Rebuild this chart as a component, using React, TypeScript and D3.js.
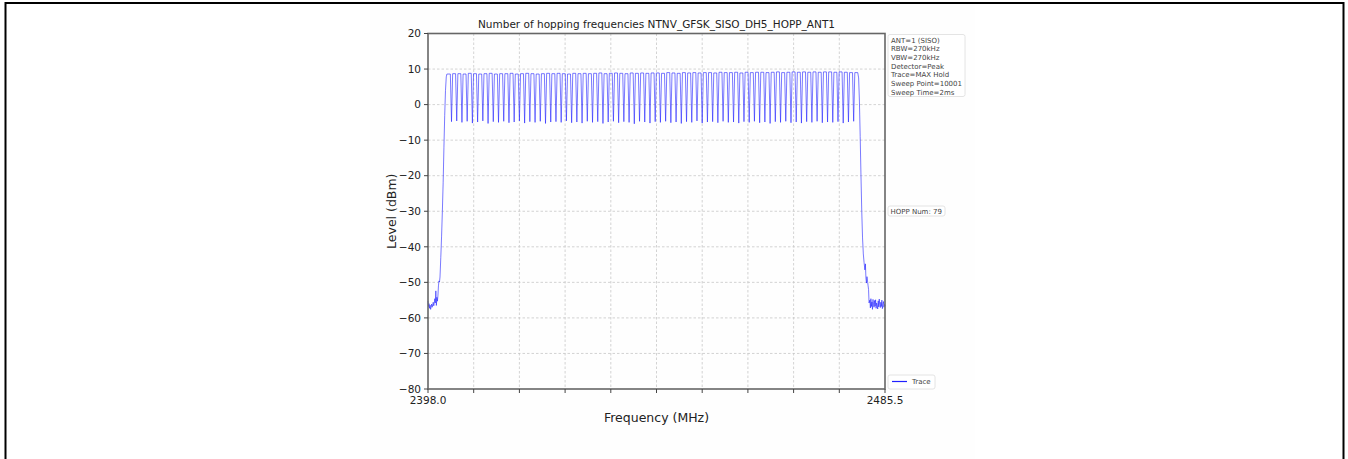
import { useEffect, useRef } from 'react'
import * as d3 from 'd3'

const TITLE = 'Number of hopping frequencies NTNV_GFSK_SISO_DH5_HOPP_ANT1'
const X_LABEL = 'Frequency (MHz)'
const Y_LABEL = 'Level (dBm)'
const X_DOMAIN = [2398.0, 2485.5]
const Y_TICKS = [20, 10, 0, -10, -20, -30, -40, -50, -60, -70, -80]
const X_TICK_LABELS = ['2398.0', '2485.5']
const X_DIVISIONS = 10
const SETTINGS_LINES = [
    'ANT=1 (SISO)',
    'RBW=270kHz',
    'VBW=270kHz',
    'Detector=Peak',
    'Trace=MAX Hold',
    'Sweep Point=10001',
    'Sweep Time=2ms',
]
const HOPP_LABEL = 'HOPP Num: 79'
const LEGEND_LABEL = 'Trace'

// hopping channels, 1 MHz apart starting here
const FIRST_CHANNEL = 2402

// plateau level of each of the 79 channels (dBm)
const PEAK_LEVELS = [
    8.6, 8.7, 8.7, 8.6, 8.8, 8.7, 8.6, 8.7, 8.8, 8.6,
    8.7, 8.7, 8.8, 8.6, 8.7, 8.8, 8.7, 8.6, 8.7, 8.8,
    8.7, 8.8, 8.7, 8.6, 8.8, 8.7, 8.8, 8.7, 8.8, 8.9,
    8.7, 8.8, 8.9, 8.8, 8.7, 8.9, 8.8, 8.9, 8.8, 8.9,
    8.9, 8.8, 9.0, 8.9, 8.8, 9.0, 8.9, 9.0, 8.9, 9.0,
    9.0, 8.9, 9.1, 9.0, 9.0, 9.1, 8.9, 9.1, 9.0, 9.1,
    9.1, 9.0, 9.1, 9.2, 9.0, 9.1, 9.2, 9.1, 9.2, 9.1,
    9.2, 9.1, 9.2, 9.2, 9.1, 9.2, 9.1, 9.0, 9.0,
]

// valley level between neighbouring channels (dBm)
const DIP_LEVELS = [
    -4.8, -4.6, -5.0, -4.7, -5.2, -4.9, -4.6, -5.3, -4.8, -5.0,
    -4.7, -5.1, -4.9, -4.6, -5.2, -4.8, -5.0, -4.7, -5.3, -4.9,
    -4.8, -5.0, -4.6, -5.1, -4.9, -5.2, -4.7, -5.0, -4.8, -5.3,
    -4.9, -4.7, -5.1, -4.8, -5.0, -5.4, -4.7, -4.9, -5.2, -4.8,
    -5.0, -4.7, -5.1, -4.9, -5.3, -4.8, -5.0, -4.6, -5.2, -4.9,
    -4.8, -5.1, -4.7, -5.0, -4.9, -5.2, -4.8, -5.0, -4.7, -5.1,
    -4.9, -5.3, -4.8, -5.0, -4.7, -5.1, -4.9, -5.2, -4.8, -5.0,
    -4.7, -5.1, -4.9, -5.0, -4.8, -5.2, -4.9, -4.7,
]

// noise floor and rising edge below the band
const LEFT_EDGE_FREQS = [
    2398.0, 2398.1, 2398.2, 2398.3, 2398.4, 2398.5, 2398.6, 2398.7, 2398.8, 2398.9,
    2399.0, 2399.1, 2399.2, 2399.3, 2399.4, 2399.5, 2399.6, 2399.7, 2399.8, 2399.9,
    2400.0, 2400.1, 2400.2, 2400.3, 2400.45, 2400.6, 2400.75, 2400.9, 2401.05, 2401.2,
    2401.35, 2401.5, 2401.62,
]
const LEFT_EDGE_LEVELS = [
    -55.2, -56.8, -56.0, -57.3, -56.4, -57.6, -56.9, -56.1, -57.0, -56.3,
    -55.6, -56.6, -55.9, -54.6, -55.8, -52.4, -56.5, -54.2, -55.3, -53.8,
    -51.0, -49.6, -49.9, -48.5, -43.0, -37.0, -30.0, -22.0, -12.0, -3.0,
    4.0, 7.8, 8.6,
]

// falling edge and noise floor above the band
const RIGHT_EDGE_FREQS = [
    2480.45, 2480.6, 2480.75, 2480.9, 2481.05, 2481.2, 2481.35, 2481.5, 2481.65, 2481.75,
    2481.85, 2481.95, 2482.05, 2482.15, 2482.25, 2482.35, 2482.45,
    2482.6, 2482.7, 2482.8, 2482.9, 2483.0, 2483.1, 2483.2, 2483.3, 2483.4, 2483.5,
    2483.6, 2483.7, 2483.8, 2483.9, 2484.0, 2484.1, 2484.2, 2484.3, 2484.4, 2484.5,
    2484.6, 2484.7, 2484.8, 2484.9, 2485.0, 2485.1, 2485.2, 2485.3, 2485.4, 2485.5,
]
const RIGHT_EDGE_LEVELS = [
    7.5, 1.0, -9.0, -20.0, -30.0, -37.5, -42.0, -44.5, -46.5, -44.8,
    -48.8, -50.2, -48.4, -49.6, -50.8, -52.0, -55.8,
    -55.0, -57.2, -54.6, -56.8, -55.5, -57.6, -54.8, -56.2, -57.0, -55.1,
    -56.7, -54.9, -57.3, -55.8, -56.4, -57.5, -55.2, -56.9, -54.7, -56.3,
    -57.1, -55.6, -56.8, -55.0, -57.4, -56.1, -55.4, -57.0, -56.2, -56.6,
]

const FONT = 'DejaVu Sans, sans-serif'
const TRACE_COLOR = '#2020ff'

export default function App() {
    const svgRef = useRef<SVGSVGElement>(null)

    useEffect(() => {
        if (!svgRef.current) return
        const svg = d3.select(svgRef.current)
        svg.selectAll('*').remove()

        const width = 1348
        const height = 459
        const plot = { left: 428, right: 885, top: 33.5, bottom: 389 }

        // page frame
        svg.append('rect')
            .attr('x', 370).attr('y', 4).attr('width', 605).attr('height', height - 4)
            .style('fill', '#fefefe')
        svg.append('path')
            .attr('d', `M5.5,${height} V3 H1343.5 V${height}`)
            .attr('fill', 'none')
            .attr('stroke', '#000')
            .attr('stroke-width', 2)

        const xScale = d3.scaleLinear().domain(X_DOMAIN).range([plot.left, plot.right])
        const yScale = d3.scaleLinear().domain([-80, 20]).range([plot.bottom, plot.top])

        const xTicks = d3.range(X_DIVISIONS + 1)
            .map(i => X_DOMAIN[0] + (i * (X_DOMAIN[1] - X_DOMAIN[0])) / X_DIVISIONS)

        // grid
        const grid = svg.append('g')
            .attr('stroke', '#c8c8c8')
            .attr('stroke-width', 0.8)
            .attr('stroke-dasharray', '2.5,2')
        grid.selectAll('.vgrid')
            .data(xTicks.slice(1, -1))
            .enter()
            .append('line')
            .attr('x1', d => xScale(d)).attr('x2', d => xScale(d))
            .attr('y1', plot.top).attr('y2', plot.bottom)
        grid.selectAll('.hgrid')
            .data(Y_TICKS.slice(1, -1))
            .enter()
            .append('line')
            .attr('x1', plot.left).attr('x2', plot.right)
            .attr('y1', d => yScale(d)).attr('y2', d => yScale(d))

        // build trace from edges and channel plateaus / valleys
        const pts: [number, number][] = []
        LEFT_EDGE_FREQS.forEach((f, i) => pts.push([f, LEFT_EDGE_LEVELS[i]]))
        PEAK_LEVELS.forEach((p, i) => {
            const f = FIRST_CHANNEL + i
            pts.push([f - 0.28, p])
            pts.push([f + 0.28, p])
            if (i < DIP_LEVELS.length) pts.push([f + 0.5, DIP_LEVELS[i]])
        })
        RIGHT_EDGE_FREQS.forEach((f, i) => pts.push([f, RIGHT_EDGE_LEVELS[i]]))

        const line = d3.line<[number, number]>()
            .x(d => xScale(d[0]))
            .y(d => yScale(d[1]))

        svg.append('path')
            .datum(pts)
            .attr('d', line)
            .attr('fill', 'none')
            .attr('stroke', TRACE_COLOR)
            .attr('stroke-width', 0.8)
            .attr('stroke-opacity', 0.75)

        // frame of axes
        svg.append('rect')
            .attr('x', plot.left).attr('y', plot.top)
            .attr('width', plot.right - plot.left).attr('height', plot.bottom - plot.top)
            .attr('fill', 'none')
            .attr('stroke', '#666')
            .attr('stroke-width', 1.6)

        // y ticks
        const yAxis = svg.append('g')
        yAxis.selectAll('line')
            .data(Y_TICKS)
            .enter()
            .append('line')
            .attr('x1', plot.left - 4).attr('x2', plot.left)
            .attr('y1', d => yScale(d)).attr('y2', d => yScale(d))
            .attr('stroke', '#444').attr('stroke-width', 1)
        yAxis.selectAll('text')
            .data(Y_TICKS)
            .enter()
            .append('text')
            .attr('x', plot.left - 7)
            .attr('y', d => yScale(d))
            .attr('dy', '0.36em')
            .attr('text-anchor', 'end')
            .style('font-family', FONT)
            .style('font-size', '10.5px')
            .style('fill', '#222')
            .text(d => (d < 0 ? `\u2212${Math.abs(d)}` : `${d}`))

        // x ticks
        const xAxis = svg.append('g')
        xAxis.selectAll('line')
            .data(xTicks)
            .enter()
            .append('line')
            .attr('x1', d => xScale(d)).attr('x2', d => xScale(d))
            .attr('y1', plot.bottom).attr('y2', plot.bottom + 4)
            .attr('stroke', '#444').attr('stroke-width', 1)
        xAxis.selectAll('text')
            .data([X_DOMAIN[0], X_DOMAIN[1]])
            .enter()
            .append('text')
            .attr('x', d => xScale(d))
            .attr('y', plot.bottom + 15)
            .attr('text-anchor', 'middle')
            .style('font-family', FONT)
            .style('font-size', '10.5px')
            .style('fill', '#222')
            .text((_, i) => X_TICK_LABELS[i])

        // title and axis labels
        svg.append('text')
            .attr('x', (plot.left + plot.right) / 2)
            .attr('y', 27.5)
            .attr('text-anchor', 'middle')
            .style('font-family', FONT)
            .style('font-size', '10.5px')
            .style('fill', '#222')
            .text(TITLE)

        svg.append('text')
            .attr('x', (plot.left + plot.right) / 2)
            .attr('y', 422)
            .attr('text-anchor', 'middle')
            .style('font-family', FONT)
            .style('font-size', '12.5px')
            .style('fill', '#222')
            .text(X_LABEL)

        svg.append('text')
            .attr('transform', `translate(396,${(plot.top + plot.bottom) / 2}) rotate(-90)`)
            .attr('text-anchor', 'middle')
            .style('font-family', FONT)
            .style('font-size', '12.5px')
            .style('fill', '#222')
            .text(Y_LABEL)

        // side boxes
        const boxStyle = (sel: d3.Selection<SVGRectElement, unknown, null, undefined>) =>
            sel.attr('rx', 2)
                .attr('fill', '#fff')
                .attr('stroke', '#ddd')
                .attr('stroke-width', 0.8)

        svg.append('rect')
            .attr('x', 888).attr('y', 34.5).attr('width', 77).attr('height', 62)
            .call(boxStyle)
        svg.append('g')
            .selectAll('text')
            .data(SETTINGS_LINES)
            .enter()
            .append('text')
            .attr('x', 891)
            .attr('y', (_, i) => 42.5 + i * 8.67)
            .style('font-family', FONT)
            .style('font-size', '7px')
            .style('fill', '#444')
            .text(d => d)

        svg.append('rect')
            .attr('x', 888).attr('y', 206).attr('width', 57).attr('height', 10)
            .call(boxStyle)
        svg.append('text')
            .attr('x', 890.5).attr('y', 213.5)
            .style('font-family', FONT)
            .style('font-size', '7px')
            .style('fill', '#444')
            .text(HOPP_LABEL)

        svg.append('rect')
            .attr('x', 888).attr('y', 375).attr('width', 47).attr('height', 14)
            .call(boxStyle)
        svg.append('line')
            .attr('x1', 892).attr('x2', 907).attr('y1', 381.5).attr('y2', 381.5)
            .style('stroke', TRACE_COLOR).style('stroke-width', 1.2)
        svg.append('text')
            .attr('x', 912).attr('y', 384)
            .style('font-family', FONT)
            .style('font-size', '7px')
            .style('fill', '#444')
            .text(LEGEND_LABEL)

        svg.attr('width', width).attr('height', height)
    }, [])

    return (
        <svg
            ref={svgRef}
            width={1348}
            height={459}
            style={{ position: 'absolute', left: 0, top: 0, background: '#fff' }}
        ></svg>
    )
}
